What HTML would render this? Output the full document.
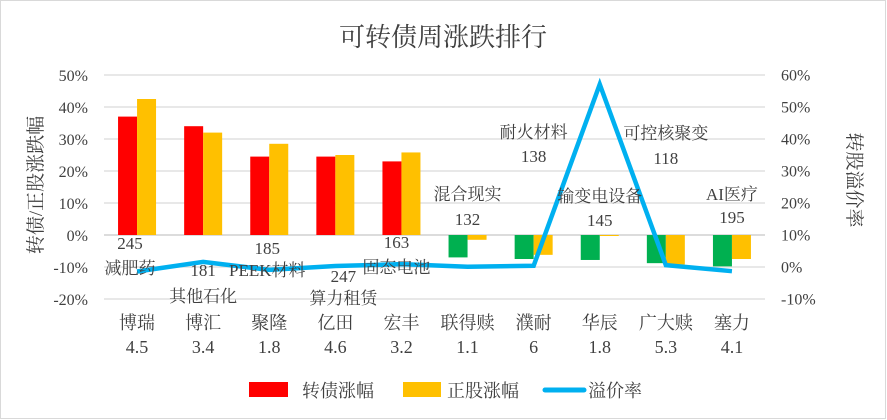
<!DOCTYPE html>
<html><head><meta charset="utf-8">
<style>
html,body{margin:0;padding:0;background:#fff;}
#chart{position:relative;width:887px;height:420px;overflow:hidden;}
svg text{font-family:"Liberation Serif","Noto Serif CJK SC",serif;fill:#404040;}
</style></head>
<body>
<div id="chart">
<svg id="svg" width="887" height="420" xmlns="http://www.w3.org/2000/svg">
<rect x="0.5" y="0.5" width="885" height="418" fill="#fff" stroke="#d9d9d9"/>
<text x="443" y="46" font-size="26" text-anchor="middle" fill="#404040">可转债周涨跌排行</text>
<text transform="translate(42,185) rotate(-90)" font-size="19" text-anchor="middle">转债/正股涨跌幅</text>
<text transform="translate(848,180) rotate(90)" font-size="19" text-anchor="middle">转股溢价率</text>
<g id="grid"></g><g id="bars"></g><g id="line"></g><g id="labels"></g><g id="ticks"></g>
<g>
<rect x="249" y="382" width="39" height="15" fill="#ff0000"/>
<text x="302" y="397" font-size="18">转债涨幅</text>
<rect x="403" y="382" width="38" height="15" fill="#ffc000"/>
<text x="447" y="397" font-size="18">正股涨幅</text>
<line x1="545" y1="390" x2="584" y2="390" stroke="#00b0f0" stroke-width="5" stroke-linecap="round"/>
<text x="588" y="397" font-size="18">溢价率</text>
</g>
</svg>
</div>
<script>
const categories=["博瑞","博汇","聚隆","亿田","宏丰","联得赎","濮耐","华辰","广大赎","塞力"];
const catNumbers=["4.5","3.4","1.8","4.6","3.2","1.1","6","1.8","5.3","4.1"];
const bondChange=[37,34,24.5,24.5,23,-7,-7.5,-7.8,-8.8,-9.8];
const stockChange=[42.5,32,28.5,25,25.8,-1.5,-6.2,-0.3,-9.2,-7.5];
const premium=[-1.5,1.5,-1,0.2,0.8,0,0.3,57,0.5,-1.4];
const themeNames=["减肥药","其他石化","PEEK材料","算力租赁","固态电池","混合现实","耐火材料","输变电设备","可控核聚变","AI医疗"];
const themeNums=["245","181","185","247","163","132","138","145","118","195"];
const leftTicks=[50,40,30,20,10,0,-10,-20];
const rightTicks=[60,50,40,30,20,10,0,-10];

const NS="http://www.w3.org/2000/svg";
const X0=104,X1=765,n=categories.length,bw=(X1-X0)/n;
const yL=v=>235-v*3.2;
const yR=v=>266.7-v*3.2;
const cx=i=>X0+bw*(i+0.5);
function mk(tag,attrs,parent,text){const e=document.createElementNS(NS,tag);for(const k in attrs)e.setAttribute(k,attrs[k]);if(text!==undefined)e.textContent=text;document.getElementById(parent).appendChild(e);return e;}

leftTicks.forEach(t=>{
  const g=mk('line',{x1:X0,x2:X1,y1:yL(t),y2:yL(t),stroke:t===0?'#d0d0d0':'#d9d9d9','stroke-width':t===0?1.5:1.3},'grid');
  
  
  const l=mk('text',{x:88,y:yL(t)+6,'font-size':16,'text-anchor':'end'},'ticks',t+'%');
  
  
});
rightTicks.forEach(t=>{
  const l=mk('text',{x:781,y:yR(t)+6,'font-size':16,'text-anchor':'start'},'ticks',t+'%');
  
  
});
const w=19;
categories.forEach((c,i)=>{
  const v=bondChange[i],s=stockChange[i];
  const b=mk('rect',{x:cx(i)-w,y:Math.min(yL(v),yL(0)),width:w,height:Math.abs(yL(v)-yL(0)),fill:v>=0?'#ff0000':'#00b050'},'bars');
  
  
  const r=mk('rect',{x:cx(i),y:Math.min(yL(s),yL(0)),width:w,height:Math.max(1,Math.abs(yL(s)-yL(0))),fill:'#ffc000'},'bars');
  
  
  const t1=mk('text',{x:cx(i),y:329,'font-size':18,'text-anchor':'middle'},'ticks',c);
  
  
  const t2=mk('text',{x:cx(i),y:353,'font-size':18,'text-anchor':'middle'},'ticks',catNumbers[i]);
  
  
});
const pts=premium.map((v,i)=>cx(i)+','+yR(v)).join(' ');
const pl=mk('polyline',{points:pts,fill:'none',stroke:'#00b0f0','stroke-width':4.5,'stroke-linejoin':'miter'},'line');


// theme labels: [dx, nameY, numY, numFirst]
const lp=[[-7,274,249,1],[0,302,276,1],[-2,276,254,1],[8,304,282,1],[-5,273,248,1],[0,200,225,0],[0,138,162,0],[0,202,226,0],[0,139,164,0],[0,200,223,0]];
themeNames.forEach((nm,i)=>{
  const p=lp[i];
  const a=mk('text',{x:cx(i)+p[0],y:p[1],'font-size':17,'text-anchor':'middle'},'labels',nm);
  
  
  const b=mk('text',{x:cx(i)+p[0],y:p[2],'font-size':17,'text-anchor':'middle'},'labels',themeNums[i]);
  
  
});
</script>
</body></html>
